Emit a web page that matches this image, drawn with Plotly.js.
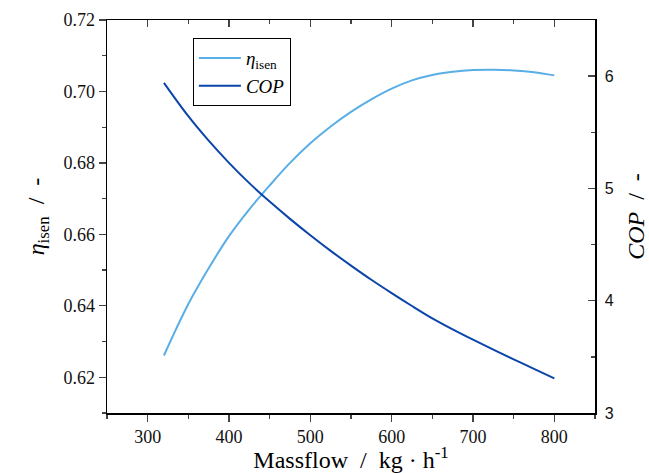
<!DOCTYPE html>
<html>
<head>
<meta charset="utf-8">
<script src="https://cdn.plot.ly/plotly-3.0.1.min.js"></script>
<style>html,body{margin:0;padding:0;background:#fff;}#chart{width:649px;height:473px;}</style>
</head>
<body>
<div id="chart"></div>
<script>
const massflow = [320, 350, 375, 400, 425, 450, 475, 500, 525, 550, 575, 600, 625, 650, 675, 700, 725, 750, 775, 800];
const etaIsen  = [0.6261, 0.6405, 0.6505, 0.6595, 0.6670, 0.6737, 0.6800, 0.6855, 0.6902, 0.6943, 0.6978, 0.7008, 0.7031, 0.7046, 0.7055, 0.7060, 0.7061, 0.7059, 0.7054, 0.7045];
const cop      = [5.94, 5.643, 5.425, 5.228, 5.047, 4.883, 4.729, 4.583, 4.444, 4.313, 4.187, 4.068, 3.953, 3.843, 3.745, 3.653, 3.564, 3.478, 3.393, 3.308];

const serif = 'Liberation Serif';
const sans = 'Liberation Sans';

const traces = [
  {x: massflow, y: etaIsen, name: '<i>η</i><sub>isen</sub>', type: 'scatter', mode: 'lines',
   line: {color: '#5aaee6', width: 2, shape: 'spline', smoothing: 1}, xaxis: 'x', yaxis: 'y'},
  {x: massflow, y: cop, name: '<i>COP</i>', type: 'scatter', mode: 'lines',
   line: {color: '#0b45aa', width: 2, shape: 'spline', smoothing: 1}, xaxis: 'x', yaxis: 'y2'},
  {x: [null], y: [null], xaxis: 'x2', yaxis: 'y', showlegend: false, hoverinfo: 'skip'}
];

const layout = {
  width: 649, height: 473,
  margin: {l: 107, r: 54, t: 20, b: 60},
  paper_bgcolor: '#fff', plot_bgcolor: '#fff',
  font: {family: serif, color: '#000'},
  showlegend: true,
  legend: {x: 0.176, y: 0.954, xanchor: 'left', yanchor: 'top',
    bordercolor: '#000', borderwidth: 1, bgcolor: '#fff', itemwidth: 42,
    font: {family: serif, size: 19, color: '#000'}, tracegroupgap: 0},
  xaxis: {range: [250, 850], tick0: 0, dtick: 100, ticks: 'outside', ticklen: 7, tickwidth: 1.3,
    minor: {dtick: 50, tick0: 0, ticks: 'outside', ticklen: 4, tickwidth: 1.3},
    showline: true, linewidth: 1.5, linecolor: '#000', showgrid: false, zeroline: false,
    tickfont: {family: serif, size: 18, color: '#111'},
    title: {text: 'Massflow  /  kg · h<sup>-1</sup>', font: {family: serif, size: 24, color: '#000'}, standoff: 6}},
  xaxis2: {range: [250, 850], overlaying: 'x', side: 'top', anchor: 'y', tick0: 0, dtick: 100,
    ticks: 'inside', ticklen: 7, tickwidth: 1.3, showticklabels: false,
    minor: {dtick: 50, tick0: 0, ticks: 'inside', ticklen: 4, tickwidth: 1.3},
    showline: true, linewidth: 1.5, linecolor: '#000', showgrid: false, zeroline: false},
  yaxis: {range: [0.61, 0.72], tick0: 0, dtick: 0.02, tickformat: '.2f', ticks: 'outside', ticklen: 7, tickwidth: 1.3,
    minor: {dtick: 0.01, tick0: 0, ticks: 'outside', ticklen: 4, tickwidth: 1.3},
    showline: true, linewidth: 1.5, linecolor: '#000', showgrid: false, zeroline: false,
    tickfont: {family: serif, size: 18, color: '#111'},
    title: {text: '<i>η</i><sub>isen</sub>  /  -', font: {family: serif, size: 24, color: '#000'}, standoff: 12}},
  yaxis2: {range: [3, 6.5], overlaying: 'y', side: 'right', anchor: 'x', tick0: 0, dtick: 1,
    ticks: 'inside', ticklen: 7, tickwidth: 1.3,
    minor: {dtick: 0.5, tick0: 0, ticks: 'inside', ticklen: 4, tickwidth: 1.3},
    showline: true, linewidth: 1.5, linecolor: '#000', showgrid: false, zeroline: false,
    ticklabelstandoff: 5,
    tickfont: {family: sans, size: 16, color: '#111'},
    title: {text: '<i>COP</i>  /  -', font: {family: serif, size: 24, color: '#000'}, standoff: 26}}
};

Plotly.newPlot('chart', traces, layout, {displayModeBar: false, staticPlot: true});
</script>
</body>
</html>
